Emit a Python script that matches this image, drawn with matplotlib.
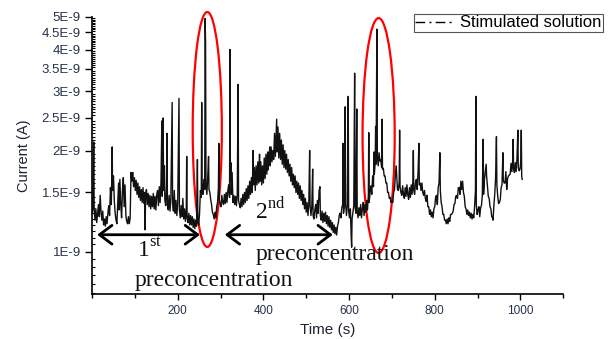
import numpy as np
import matplotlib
matplotlib.use('Agg')
import matplotlib.pyplot as plt
from matplotlib.lines import Line2D
from matplotlib.patches import Ellipse
from matplotlib.transforms import blended_transform_factory
from matplotlib.ticker import FixedLocator, MultipleLocator, NullFormatter

plt.rcParams['font.family'] = ['Liberation Sans', 'DejaVu Sans']
plt.rcParams['mathtext.fontset'] = 'custom'
plt.rcParams['mathtext.rm'] = 'Liberation Serif'

# time (s) and current (in units of 1E-9 A)
time_s = [
    0, 2, 4, 5, 7, 9, 11, 13, 15, 17, 19, 21, 23, 25, 27, 29, 31, 33, 35, 37, 39, 41, 43, 45, 46, 47, 48, 50,
    52, 54, 56, 58, 60, 62, 63, 65, 67, 69, 71, 73, 75, 77, 79, 81, 83, 85, 87, 89, 91,
    93, 95, 97, 99, 101, 103, 105, 107, 109, 111, 113, 115, 117, 119, 121, 123, 124, 125, 127, 129, 131,
    133, 135, 137, 139, 141, 143, 145, 147, 149, 151, 153, 155, 157, 159, 161, 163, 164, 166, 167, 169,
    170, 172, 174, 175, 176, 178, 180, 182, 184, 187, 188, 190, 192, 194, 196, 198, 200, 203, 204, 206,
    208, 210, 212, 214, 216, 218, 220, 221, 222, 224, 226, 228, 230, 232, 234, 236, 238, 240, 242, 244,
    246, 247, 249,
    251, 253, 255, 256, 257, 259, 261, 263, 264, 265, 266, 268, 270, 272, 273, 275, 277, 279, 281, 283,
    285, 287, 289, 291, 293, 295, 296, 297, 299, 301, 303, 305, 307, 309, 311, 313, 315, 317, 319, 321,
    322, 323, 324, 325, 327, 329, 331, 333, 335, 337, 339, 341, 342,
    344, 346, 348, 350, 352, 354, 356, 358, 360, 362, 364, 366, 368, 370, 372, 374, 376, 377, 379, 381,
    383, 385, 387, 389, 391, 392, 394, 396, 398, 400, 402, 404, 406, 408, 410, 411, 413, 415, 416, 418,
    420, 422, 424, 426, 428, 430, 431, 432, 434, 436, 438, 440, 442, 444, 446, 448, 450, 452, 454, 456,
    458, 460, 462, 464, 466, 468, 470, 472, 474, 476, 478, 480, 482, 484, 486, 488, 490, 492, 494, 496,
    498, 500, 502, 504, 506, 508, 509, 511, 513, 515, 516, 518, 520, 522, 524, 526, 528, 530, 532, 533,
    535, 537, 539, 541, 543, 545, 547, 549, 551, 553, 555, 557, 559, 561, 563, 565, 567, 569, 571, 573,
    575, 577,
    579, 581, 583, 585, 586, 587, 589, 591, 592, 594, 596, 598, 599, 601, 603, 605, 606, 607, 609, 611,
    613, 614, 616, 618, 619, 621, 623, 625, 627, 629, 631, 633, 635, 637, 639, 641, 643, 645, 646, 647,
    649, 651, 653, 655, 657, 658, 659, 661, 662, 663, 665, 666, 668, 670, 672, 674, 676, 677, 678, 680,
    682, 684, 686, 688, 690, 692, 694, 696, 698, 700, 702, 704, 706, 708, 710, 711, 713, 715, 717, 718,
    719,
    721, 723, 725, 727, 729, 731, 733, 735, 737, 739, 741, 743, 745, 747, 749, 750, 751, 753, 755, 757,
    759, 761, 763, 764, 766, 768, 770, 772, 774, 776, 778, 780, 782, 784, 786, 788, 790, 792, 794, 796,
    798, 800, 802, 804, 806, 808, 810, 812, 813, 815, 817, 819, 821, 823, 825, 827, 829, 831, 833, 835,
    837, 839, 841, 843, 845, 847, 849, 851, 853, 855, 857, 859, 861, 863, 865, 867, 869, 871, 873, 875,
    877, 879, 881, 883, 885, 887, 889, 891, 893, 895, 896, 897, 899, 901, 903, 905, 907, 909, 911, 913,
    914, 916, 918, 920, 921, 923, 925, 927, 929, 931, 933, 935, 936, 938, 940, 942, 944, 945, 947, 949,
    951, 953, 955, 957, 959, 960, 962, 964, 966, 968, 970, 972, 974, 976, 978, 980, 982, 983, 984, 986,
    988, 990, 992, 994, 995, 997, 999, 1001, 1002, 1003, 1004,
]
current_e9 = [
    1.30, 1.34, 2.12, 1.33, 1.24, 1.34, 1.22, 1.30, 1.38, 1.27, 1.47, 1.31, 1.24, 1.32, 1.20, 1.25, 1.19, 1.27, 1.21, 1.30, 1.37, 1.28, 1.55, 1.38, 1.64, 2.05, 1.52, 1.68,
    1.42, 1.30, 1.24, 1.21, 1.40, 1.60, 1.33, 1.64, 1.38, 1.26, 1.52, 1.66, 1.36, 1.58, 1.28, 1.23, 1.21, 1.27, 1.21, 1.26, 1.72,
    1.62, 1.72, 1.56, 1.66, 1.52, 1.63, 1.48, 1.60, 1.45, 1.56, 1.42, 1.53, 1.40, 1.55, 1.39, 1.50, 1.16, 1.47, 1.53, 1.38, 1.49,
    1.36, 1.47, 1.34, 1.46, 1.36, 1.49, 1.34, 1.46, 1.33, 1.48, 1.52, 1.37, 1.56, 1.40, 1.62, 2.45, 1.46, 2.50, 1.52, 1.80,
    1.42, 1.37, 1.56, 2.25, 1.38, 1.33, 1.47, 1.32, 1.44, 2.78, 1.39, 1.32, 1.52, 1.30, 1.42, 1.28, 1.39, 2.86, 1.33, 1.26,
    1.37, 1.27, 1.44, 1.25, 1.34, 1.23, 1.33, 1.92, 1.26, 1.22, 1.30, 1.20, 1.28, 1.20, 1.27, 1.18, 1.25, 1.17, 1.24, 1.19,
    1.88, 1.22, 1.20,
    1.30, 1.52, 1.45, 2.78, 1.55, 1.48, 1.64, 1.53, 4.95, 4.20, 1.60, 1.48, 1.66, 1.92, 1.53, 1.50, 1.43, 1.38, 1.31, 1.29,
    1.25, 1.31, 1.26, 1.36, 1.40, 1.55, 2.10, 1.43, 1.38, 1.36, 1.47, 1.40, 1.38, 1.48, 1.39, 1.50, 1.40, 1.52, 1.58, 1.45,
    4.00, 1.62, 1.84, 1.48, 1.72, 1.40, 1.47, 1.38, 1.46, 1.37, 1.48, 3.15, 1.42,
    1.38, 1.35, 1.44, 1.36, 1.48, 1.38, 1.50, 1.40, 1.54, 1.42, 1.57, 1.44, 1.62, 1.48, 1.66, 1.50, 2.00, 1.58, 1.78, 1.52,
    1.80, 1.58, 1.85, 1.60, 1.95, 1.62, 1.85, 1.58, 1.80, 1.60, 1.90, 1.65, 1.95, 1.70, 1.98, 1.75, 1.92, 2.05, 1.80, 2.05,
    1.85, 2.00, 1.88, 2.25, 1.92, 2.30, 2.48, 1.98, 2.35, 1.90, 2.25, 1.88, 2.15, 1.82, 2.08, 1.78, 2.00, 1.76, 1.95, 1.72,
    1.88, 1.68, 1.82, 1.62, 1.78, 1.58, 1.70, 1.55, 1.68, 1.50, 1.62, 1.48, 1.60, 1.44, 1.57, 1.42, 1.52, 1.38, 1.48, 1.34,
    1.44, 1.31, 1.40, 1.28, 1.38, 2.00, 1.38, 1.28, 1.36, 1.76, 1.28, 1.25, 1.33, 1.38, 1.26, 1.42, 1.30, 1.52, 1.56, 1.28,
    1.24, 1.32, 1.22, 1.30, 1.23, 1.31, 1.21, 1.28, 1.19, 1.27, 1.18, 1.24, 1.16, 1.22, 1.14, 1.20, 1.13, 1.18, 1.12, 1.19,
    1.22, 1.28,
    1.30, 1.26, 1.35, 1.38, 2.10, 1.30, 1.37, 2.70, 1.38, 1.28, 1.38, 2.90, 1.32, 1.26, 1.34, 1.10, 1.03, 1.25, 1.31, 1.37,
    3.40, 1.36, 1.30, 2.66, 1.32, 1.26, 1.35, 1.28, 1.38, 1.26, 1.34, 1.40, 1.28, 1.38, 1.31, 1.42, 1.33, 1.47, 2.26, 1.40,
    1.50, 1.57, 1.48, 1.68, 1.56, 1.98, 1.70, 1.84, 2.36, 1.82, 4.60, 1.92, 1.80, 1.97, 1.86, 1.88, 1.78, 2.48, 1.76, 1.77,
    1.68, 1.68, 1.60, 1.60, 1.50, 1.50, 1.44, 1.45, 1.40, 1.42, 1.40, 1.50, 1.53, 1.68, 1.80, 1.70, 1.53, 1.52, 1.62, 2.30,
    1.56,
    1.50, 1.47, 1.57, 1.48, 1.44, 1.55, 1.46, 1.58, 1.48, 1.43, 1.55, 1.45, 1.58, 1.48, 1.62, 2.00, 1.52, 1.48, 1.60, 1.64,
    1.53, 1.72, 2.10, 1.58, 1.60, 1.52, 1.60, 1.50, 1.47, 1.52, 1.44, 1.41, 1.47, 1.36, 1.36, 1.29, 1.33, 1.27, 1.31, 1.26,
    1.34, 1.36, 1.45, 1.47, 1.38, 1.55, 1.60, 1.97, 1.52, 1.40, 1.36, 1.29, 1.29, 1.24, 1.24, 1.21, 1.25, 1.21, 1.26, 1.23,
    1.29, 1.29, 1.30, 1.32, 1.38, 1.39, 1.46, 1.47, 1.44, 1.55, 1.55, 1.48, 1.62, 1.53, 1.62, 1.50, 1.46, 1.36, 1.34, 1.29,
    1.33, 1.28, 1.31, 1.26, 1.30, 1.25, 1.29, 1.26, 1.36, 1.52, 2.90, 1.38, 1.29, 1.33, 1.36, 1.27, 1.35, 1.37, 1.47, 2.16,
    1.48, 1.64, 1.73, 1.82, 1.68, 1.57, 1.46, 1.44, 1.36, 1.34, 1.27, 1.26, 1.24, 1.37, 1.48, 1.65, 2.20, 1.58, 1.46, 1.39,
    1.40, 1.43, 1.55, 1.58, 1.97, 1.63, 1.60, 1.60, 1.73, 1.53, 1.65, 1.68, 1.69, 1.70, 1.83, 1.73, 1.88, 2.16, 1.76, 1.72,
    1.84, 1.73, 1.90, 2.30, 1.78, 1.74, 1.76, 1.87, 2.30, 1.68, 1.64,
]

y_ticks = [1.0, 1.5, 2.0, 2.5, 3.0, 3.5, 4.0, 4.5, 5.0]
y_tick_labels = ['1E-9', '1.5E-9', '2E-9', '2.5E-9', '3E-9', '3.5E-9', '4E-9', '4.5E-9', '5E-9']
x_ticks = [200, 400, 600, 800, 1000]

# highlighted peaks: centre time and width (s)
peak_centres = [269, 669]
peak_widths = [68, 75]

tick_col = '#26324a'

fig = plt.figure(figsize=(6.16, 3.39), dpi=100)
ax = fig.add_axes([0.1494, 0.1327, 0.765, 0.8172])

ax.plot(time_s, [c * 1e-9 for c in current_e9], color='#111111', lw=1.0)

ax.set_yscale('log')
ax.set_xlim(0, 1100)
ax.set_ylim(0.747e-9, 5.0e-9)

ax.yaxis.set_major_locator(FixedLocator([v * 1e-9 for v in y_ticks]))
ax.set_yticklabels(y_tick_labels)
ax.yaxis.set_minor_locator(FixedLocator(np.arange(0.75, 5.01, 0.05) * 1e-9))
ax.yaxis.set_minor_formatter(NullFormatter())
ax.xaxis.set_major_locator(FixedLocator(x_ticks))
ax.xaxis.set_minor_locator(MultipleLocator(100))

ax.tick_params(axis='y', which='major', direction='out', length=5, width=1, labelsize=9.5, labelcolor=tick_col, pad=3)
ax.tick_params(axis='y', which='minor', direction='in', length=2.5, width=0.8)
ax.tick_params(axis='x', which='major', direction='out', length=4, width=1, labelsize=8.5, labelcolor=tick_col, pad=4)
ax.tick_params(axis='x', which='minor', direction='out', length=3, width=1)

for s in ['top', 'right']:
    ax.spines[s].set_visible(False)
for s in ['left', 'bottom']:
    ax.spines[s].set_linewidth(1.2)

ax.set_xlabel('Time (s)', fontsize=11, color='#1c2233', labelpad=4)
ax.set_ylabel('Current (A)', fontsize=10.5, color='#1c2233', labelpad=8)

# red ellipses around the peaks
trans = blended_transform_factory(ax.transData, ax.transAxes)
for cx, w, cy in zip(peak_centres, peak_widths, [0.594, 0.572]):
    ax.add_patch(Ellipse((cx, cy), width=w, height=0.848, transform=trans,
                         fill=False, edgecolor='red', lw=1.6, clip_on=False))

# preconcentration arrows
arrow = dict(arrowstyle='<->,head_length=0.6,head_width=0.45', lw=2, color='black',
             shrinkA=0, shrinkB=0, mutation_scale=15)
ax.annotate('', xy=(12, 1.122e-9), xytext=(252, 1.122e-9), arrowprops=arrow)
ax.annotate('', xy=(310, 1.122e-9), xytext=(562, 1.122e-9), arrowprops=arrow)

serif = dict(family='Liberation Serif', fontsize=17, color='#111111')
ax.text(105, 0.964e-9, '1$^{\\rm st}$', va='baseline', ha='left', **serif)
ax.text(100, 0.789e-9, 'preconcentration', va='baseline', ha='left', **serif)
ax.text(380, 1.244e-9, '2$^{\\rm nd}$', va='baseline', ha='left', **serif)
ax.text(382, 0.944e-9, 'preconcentration', va='baseline', ha='left', **serif)

handle = Line2D([], [], color='black', lw=1, linestyle=(0, (7, 3, 1.5, 3)))
leg = ax.legend([handle], ['Stimulated solution'], loc='upper left',
                bbox_to_anchor=(414 / 616, 1 - 14 / 339), bbox_transform=fig.transFigure,
                fancybox=False, edgecolor='#555555', framealpha=1, fontsize=12,
                handlelength=2.4, handletextpad=0.3, borderpad=0.08, borderaxespad=0)
leg.get_frame().set_linewidth(0.8)

fig.savefig('out.png', dpi=100)
